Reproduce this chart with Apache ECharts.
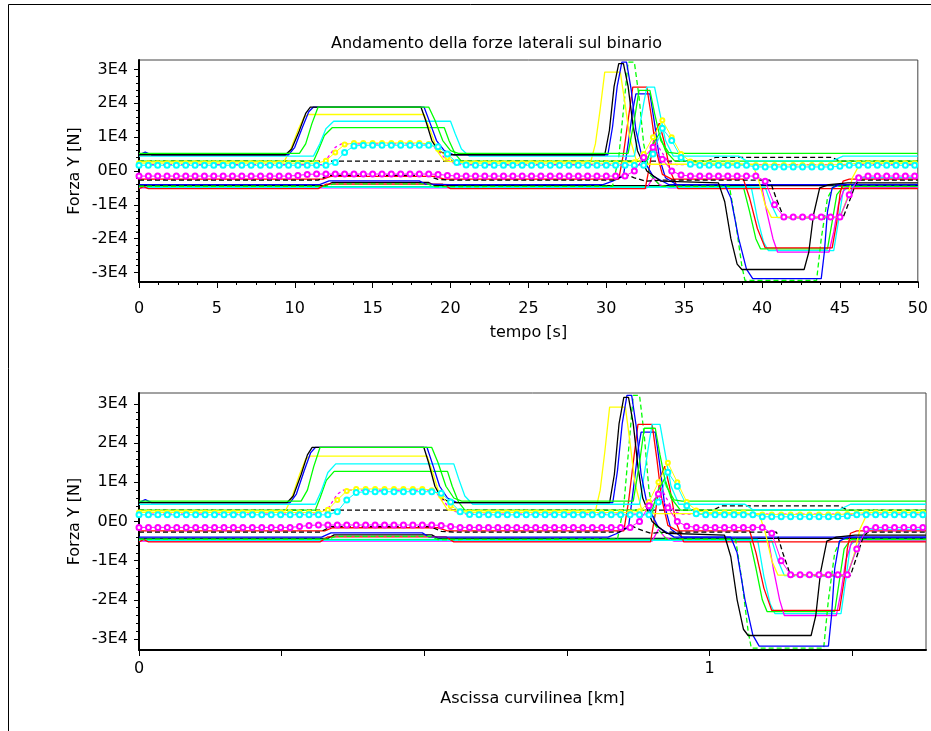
<!DOCTYPE html>
<html><head><meta charset="utf-8">
<script src="https://cdn.jsdelivr.net/npm/echarts@6/dist/echarts.min.js"></script>
<style>html,body{margin:0;padding:0;background:#fff}#c{width:931px;height:731px}</style>
</head><body><div id="c"></div>
<script>
// ---------------- DATA ----------------
const titleText = 'Andamento della forze laterali sul binario';
const xTicksTime = [0,5,10,15,20,25,30,35,40,45,50];
const yTickValues = [-30000,-20000,-10000,0,10000,20000,30000];
const kmLabels = [0,1];

// [time s, force N] breakpoints
const k1 = [[0,4800],[9.4,4800],[9.8,6500],[10.3,12000],[10.7,17000],[11.0,18900],[18.1,18900],[18.4,15000],[18.8,9000],[19.2,6000],[19.8,4800],[29.9,4800],[30.2,12000],[30.5,25000],[30.8,31700],[31.1,31700],[31.4,25000],[31.7,14000],[32.0,6000],[32.6,0],[33.5,-3000],[37.2,-3500],[37.6,-9000],[38.0,-20000],[38.4,-27500],[38.7,-29100],[42.7,-29100],[43.0,-24000],[43.3,-13000],[43.7,-5000],[44.3,-4000],[45.5,-3500],[50,-3500]];
const b1 = [[0,4800],[0.4,5600],[0.8,4800],[9.6,4800],[10.0,7000],[10.5,13000],[10.9,17500],[11.2,18900],[18.3,18900],[18.7,14000],[19.1,9000],[19.6,6000],[20.2,4800],[30.1,4800],[30.4,13000],[30.7,25000],[31.0,32200],[31.3,32200],[31.6,24000],[31.9,12000],[32.3,4000],[33.0,-1500],[34.0,-4000],[37.6,-4000],[38.0,-8000],[38.5,-20000],[39.0,-29000],[39.4,-31800],[43.8,-31800],[44.0,-24000],[44.2,-12000],[44.5,-5000],[45.0,-4000],[50,-4000]];
const g1 = [[0,5200],[10.3,5200],[10.7,8000],[11.1,14000],[11.5,18900],[18.6,18900],[19.0,15000],[19.5,9000],[20.0,6000],[20.5,5200],[31.4,5200],[31.8,15000],[32.1,23800],[32.8,23800],[33.1,17000],[33.5,9000],[34.0,5500],[34.5,5200],[50,5200]];
const c1 = [[0,4400],[11.2,4400],[11.6,8000],[12.0,12500],[12.5,14700],[20.0,14700],[20.3,11000],[20.7,6500],[21.2,4400],[31.8,4400],[32.1,12000],[32.4,20000],[32.6,24800],[33.1,24800],[33.4,18000],[33.8,9000],[34.3,4400],[38.5,4400],[39.0,3000],[44.5,3000],[45.2,4400],[50,4400]];
const y1 = [[0,2700],[9.3,2700],[9.7,6000],[10.2,12000],[10.6,16000],[10.9,16700],[18.3,16700],[18.7,12000],[19.2,5500],[19.6,3000],[20.2,2700],[29.0,2700],[29.3,8000],[29.6,18000],[29.9,29200],[30.9,29200],[31.2,20000],[31.5,10000],[31.9,3500],[32.5,2000],[39.4,2000],[39.8,-3000],[40.2,-10000],[40.6,-13700],[45.0,-13700],[45.4,-9000],[45.8,-2000],[46.3,2300],[50,2300]];
const g2 = [[0,2900],[11.2,2900],[11.5,6000],[11.9,10500],[12.4,12800],[19.6,12800],[19.9,9000],[20.3,5000],[20.7,2900],[32.6,2900],[33.0,8000],[33.4,11000],[33.8,6000],[34.4,2900],[50,2900]];
const md = [[0,1900],[11.8,1900],[12.2,4500],[12.6,7000],[13.0,8000],[18.7,8000],[19.2,6000],[19.7,3500],[20.4,1900],[32.4,1900],[32.8,6000],[33.1,9200],[33.5,6000],[34.0,2500],[34.5,1900],[50,1900]];
const kd = [[0,-2700],[11.5,-2700],[12.2,-1300],[18.5,-1300],[19.2,-2500],[20,-2700],[30.5,-2700],[31.2,-1000],[31.8,-2000],[32.5,-3000],[33.5,-2700],[40.5,-2700],[40.9,-8000],[41.4,-13800],[45.2,-13800],[45.6,-9000],[46.0,-4000],[46.3,-2700],[50,-2700]];
const kd2 = [[0,2900],[36.5,2900],[37.0,4000],[44.5,4000],[45.0,2900],[50,2900]];
const r1 = [[0,-2400],[11.8,-2400],[12.3,-1600],[19.0,-1600],[19.6,-2400],[30.8,-2400],[31.1,5000],[31.4,15000],[31.7,24800],[32.6,24800],[32.9,16000],[33.2,6000],[33.6,-1000],[34.2,-2400],[38.8,-2400],[39.2,-8000],[39.7,-17000],[40.2,-22700],[44.5,-22700],[44.8,-15000],[45.0,-7000],[45.2,-3000],[45.6,-2400],[50,-2400]];
const r2 = [[0,-5200],[0.3,-4600],[0.6,-5200],[11.5,-5200],[12.0,-3900],[19.5,-3900],[20.0,-5200],[32.5,-5200],[32.8,2000],[33.1,11000],[33.4,14100],[33.7,9000],[34.1,0],[34.6,-5200],[50,-5200]];
const b2 = [[0,-4000],[11.6,-4000],[12.2,-2900],[18.0,-2900],[18.4,-3900],[20,-4000],[29.8,-4000],[30.4,-3000],[31.1,-1500],[31.4,8000],[31.7,18000],[31.9,22800],[32.8,22800],[33.1,14000],[33.4,4000],[33.8,-2000],[34.5,-4000],[50,-4000]];
const gd = [[0,-4500],[12.0,-4500],[12.5,-3800],[18.5,-3800],[19.0,-4600],[30.4,-4500],[30.8,4000],[31.1,18000],[31.4,32200],[31.8,32200],[32.1,22000],[32.4,8000],[32.8,-1000],[33.5,-4500],[37.9,-4500],[38.3,-15000],[38.7,-28000],[38.9,-32300],[43.5,-32300],[43.8,-20000],[44.2,-8000],[44.6,-4500],[50,-4500]];
const m1 = [[0,-5000],[32.6,-5000],[33.0,-2000],[33.4,-4000],[34.0,-5000],[40.0,-5000],[40.3,-12000],[40.7,-20000],[41.0,-24000],[44.3,-24000],[44.6,-18000],[44.9,-10000],[45.3,-5000],[50,-5000]];
const c2 = [[0,-4800],[40.2,-4800],[40.6,-10000],[41.0,-13800],[45.0,-13800],[45.4,-9000],[45.9,-4000],[46.3,-2000],[50,-2000]];
const c3 = [[0,-4600],[39.3,-4600],[39.7,-14000],[40.1,-21000],[40.4,-23500],[44.6,-23500],[44.9,-15000],[45.2,-6000],[45.6,-4600],[50,-4600]];
const g3 = [[0,-4700],[38.8,-4700],[39.2,-12000],[39.6,-20000],[39.9,-23000],[44.2,-23000],[44.5,-15000],[44.8,-7000],[45.2,-4700],[50,-4700]];
const k2 = [[0,-4300],[12,-4300],[12.4,-3400],[18.6,-3400],[19.0,-4300],[50,-4300]];

// marker (circle) series, sampled at tMarks
const tMarks = [0,0.6,1.2,1.8,2.4,3,3.6,4.2,4.8,5.4,6,6.6,7.2,7.8,8.4,9,9.6,10.2,10.8,11.4,12,12.6,13.2,13.8,14.4,15,15.6,16.2,16.8,17.4,18,18.6,19.2,19.8,20.4,21,21.6,22.2,22.8,23.4,24,24.6,25.2,25.8,26.4,27,27.6,28.2,28.8,29.4,30,30.6,31.2,31.8,32.4,33,33.6,34.2,34.8,35.4,36,36.6,37.2,37.8,38.4,39,39.6,40.2,40.8,41.4,42,42.6,43.2,43.8,44.4,45,45.6,46.2,46.8,47.4,48,48.6,49.2,49.8];
const yc = [2300,2300,2300,2300,2300,2300,2300,2300,2300,2300,2300,2300,2300,2300,2300,2300,2300,2300,2300,2300,
  3000,5500,7800,8300,8300,8300,8300,8300,8300,8300,8300,8000,6500,4000,2600,
  2300,2300,2300,2300,2300,2300,2300,2300,2300,2300,2300,2300,2300,2300,2300,2300,2300,2300,
  2600,5000,10000,15000,10000,5000,2800,2300,2300,2300,2300,2300,
  1800,1800,1800,1800,1800,1800,1800,1800,1800,1800,1900,2100,2300,2300,2300,2300,2300,2300,2300];
const cc = [1700,1700,1700,1700,1700,1700,1700,1700,1700,1700,1700,1700,1700,1700,1700,1700,1700,1700,1700,1700,1700,
  2500,5500,7400,7600,7600,7600,7600,7600,7600,7600,7600,7200,5000,2500,1800,
  1700,1700,1700,1700,1700,1700,1700,1700,1700,1700,1700,1700,1700,1700,1700,1700,1700,1700,1700,
  5000,12600,9000,4000,2000,1700,1700,1700,1700,1700,1700,
  1200,1200,1200,1200,1200,1200,1200,1200,1200,1400,1700,1700,1700,1700,1700,1700,1700,1700];
const mc = [-1500,-1500,-1500,-1500,-1500,-1500,-1500,-1500,-1500,-1500,-1500,-1500,-1500,-1500,-1500,-1500,-1500,
  -1300,-1000,-900,-900,-900,-900,-900,-900,-900,-900,-900,-900,-900,-900,-900,-1000,-1300,
  -1500,-1500,-1500,-1500,-1500,-1500,-1500,-1500,-1500,-1500,-1500,-1500,-1500,-1500,-1500,-1500,-1500,-1500,-1500,
  0,4000,7000,3500,0,-1200,-1500,-1500,-1500,-1500,-1500,-1500,-1500,-1500,
  -3000,-10000,-13600,-13600,-13600,-13600,-13600,-13600,-13600,-7000,-2000,-1500,-1500,-1500,-1500,-1500,-1500];

// ---------------- CHART ----------------
const FONT = 'DejaVu Sans';
const BLACK='#000000',BLUE='#0000ff',GREEN='#00ff00',CYAN='#00ffff',RED='#ff0000',MAG='#ff00ff',YEL='#ffff00';
const LW = 1.3;
const lineSpecs = [
  {d:kd2,c:BLACK,dash:[5,3]},{d:k2,c:BLACK},{d:c3,c:CYAN},{d:g3,c:GREEN},{d:m1,c:MAG},{d:c2,c:CYAN},
  {d:r2,c:RED},{d:b2,c:BLUE},{d:gd,c:GREEN,dash:[5,3]},{d:r1,c:RED},{d:kd,c:BLACK,dash:[5,3]},
  {d:md,c:MAG,dash:[3,3]},{d:g2,c:GREEN},{d:y1,c:YEL},{d:c1,c:CYAN},{d:b1,c:BLUE},{d:k1,c:BLACK},{d:g1,c:GREEN}
];
const circleSpecs = [{d:yc,c:YEL,s:4},{d:cc,c:CYAN,s:5},{d:mc,c:MAG,s:5}];

function buildSeries(xi, yi) {
  const out = [];
  lineSpecs.forEach(s => out.push({
    type:'line', xAxisIndex:xi, yAxisIndex:yi, data:s.d, showSymbol:false, silent:true,
    lineStyle:{color:s.c,width:LW,type:s.dash||'solid'}, itemStyle:{color:s.c}, animation:false
  }));
  circleSpecs.forEach(s => out.push({
    type:'line', xAxisIndex:xi, yAxisIndex:yi, data:tMarks.map((t,i)=>[t,s.d[i]]),
    symbol:'emptyCircle', symbolSize:s.s, showSymbol:true, showAllSymbol:true, silent:true,
    lineStyle:{color:s.c,width:1}, itemStyle:{color:s.c,borderColor:s.c,borderWidth:1.2}, animation:false
  }));
  return out;
}

const YMIN=-32800, YMAX=32800;
const lbl = {fontFamily:FONT,fontSize:16,color:'#000'};
const fmtE = v => v===0 ? '0E0' : (v/10000)+'E4';

function mainY(gi){
  return {type:'value',gridIndex:gi,min:YMIN,max:YMAX,
    axisLine:{show:true,lineStyle:{color:'#000',width:2}},axisTick:{show:false},axisLabel:{show:false},splitLine:{show:false},
    name:'Forza Y [N]',nameLocation:'middle',nameGap:56,nameTextStyle:lbl};
}
function tickY(gi){
  return {type:'value',gridIndex:gi,min:yTickValues[0],max:yTickValues[yTickValues.length-1],interval:10000,
    axisLine:{show:false},axisTick:{show:true,length:5,lineStyle:{color:'#000',width:1}},
    minorTick:{show:true,splitNumber:5,length:3,lineStyle:{color:'#000',width:1}},
    axisLabel:{...lbl,margin:11,formatter:fmtE},splitLine:{show:false},minorSplitLine:{show:false}};
}

const option = {
  animation:false,
  backgroundColor:'#fff',
  title:{text:titleText,left:326,top:31,textStyle:{fontFamily:FONT,fontSize:16,fontWeight:'normal',color:'#000'}},
  graphic:[{type:'rect',shape:{x:8.5,y:4.5,width:1000,height:1000},style:{fill:'none',stroke:'#000',lineWidth:1},silent:true}],
  grid:[
    {left:139,top:60,width:785,height:222,show:true,borderColor:'#444',borderWidth:1,backgroundColor:'#fff'},
    {left:139,top:69.5,width:785,height:203},
    {left:139,top:393,width:787,height:257,show:true,borderColor:'#444',borderWidth:1,backgroundColor:'#fff'},
    {left:139,top:404,width:787,height:235}
  ],
  xAxis:[
    {type:'value',gridIndex:0,min:xTicksTime[0],max:xTicksTime[xTicksTime.length-1],interval:5,
      axisLine:{show:true,onZero:false,lineStyle:{color:'#000',width:2}},
      axisTick:{show:true,length:6,lineStyle:{color:'#000'}},
      minorTick:{show:true,splitNumber:4,length:3,lineStyle:{color:'#000'}},
      axisLabel:{...lbl,margin:19},splitLine:{show:false},minorSplitLine:{show:false},
      name:'tempo [s]',nameLocation:'middle',nameGap:43,nameTextStyle:lbl},
    {type:'value',gridIndex:1,min:0,max:50,show:false},
    {type:'value',gridIndex:2,min:0,max:50,show:false},
    {type:'value',gridIndex:2,min:0,max:1.3793,interval:0.25,position:'bottom',
      axisLine:{show:true,onZero:false,lineStyle:{color:'#000',width:2}},
      axisTick:{show:true,length:6,lineStyle:{color:'#000'}},
      axisLabel:{...lbl,margin:11,showMaxLabel:false,formatter:v=>kmLabels.some(k=>Math.abs(k-v)<1e-9)?String(Math.round(v)):''},
      splitLine:{show:false},
      name:'Ascissa curvilinea [km]',nameLocation:'middle',nameGap:41,nameTextStyle:lbl},
    {type:'value',gridIndex:3,min:0,max:50,show:false}
  ],
  yAxis:[ mainY(0), tickY(1), mainY(2), tickY(3) ],
  series:[...buildSeries(0,0), ...buildSeries(2,2)]
};
const chart = echarts.init(document.getElementById('c'));
chart.setOption(option);
</script>
</body></html>
